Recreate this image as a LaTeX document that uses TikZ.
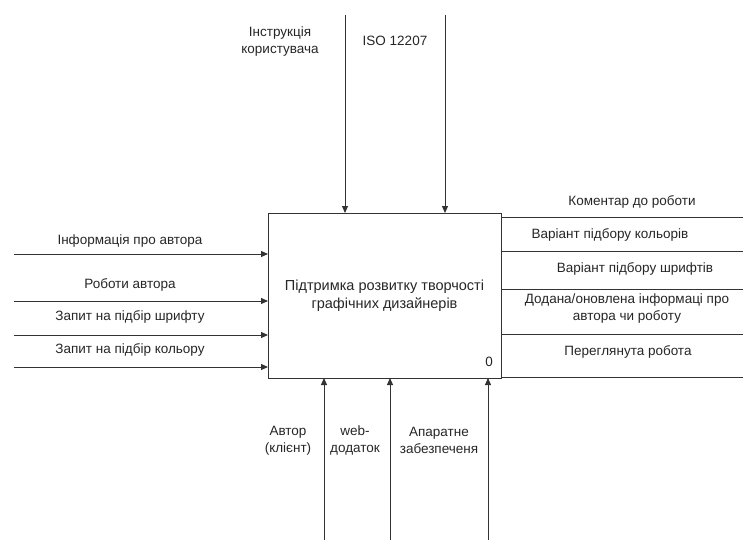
\documentclass[tikz,border=0pt]{standalone}
\usepackage{fontspec}
\setmainfont{Liberation Sans}
\usetikzlibrary{arrows.meta}
\begin{document}
\begin{tikzpicture}[x=1pt,y=-1pt,
  font=\fontsize{13.5}{17}\selectfont,
  line/.style={draw=black!80, line width=1pt},
  flow/.style={line, -{Triangle[length=7pt,width=6pt]}},
  lbl/.style={text=black!85, align=center, inner sep=0pt}]
\useasboundingbox (0,0) rectangle (743,540);

% function block
\node[draw=black!80, line width=1pt, minimum width=233pt, minimum height=165pt,
      inner sep=0pt, outer sep=0pt, align=center, text=black!85,
      font=\fontsize{14.5}{18}\selectfont] (fn) at (384.5,295.5)
  {Підтримка розвитку творчості\\графічних дизайнерів};
\node[lbl] (num) at (489,362) {0};

% controls (top)
\coordinate (t1) at (345,15);
\coordinate (t2) at (445,15);
\draw[flow] (t1) -- (t1 |- fn.north);
\draw[flow] (t2) -- (t2 |- fn.north);
\node[lbl] (tl1) at (280,41.5) {Інструкція\\користувача};
\node[lbl] (tl2) at (395,41) {ISO 12207};

% inputs (left)
\coordinate (l1) at (14,254);
\coordinate (l2) at (14,301);
\coordinate (l3) at (14,335);
\coordinate (l4) at (14,367);
\foreach \c in {l1,l2,l3,l4} \draw[flow] (\c) -- (\c -| fn.west);
\node[lbl] (ll1) at (130,241) {Інформація про автора};
\node[lbl] (ll2) at (130,285) {Роботи автора};
\node[lbl] (ll3) at (130,317) {Запит на підбір шрифту};
\node[lbl] (ll4) at (130,350) {Запит на підбір кольору};

% outputs (right)
\coordinate (r1) at (743,217);
\coordinate (r2) at (743,251);
\coordinate (r3) at (743,289);
\coordinate (r4) at (743,334);
\coordinate (r5) at (743,377);
\foreach \c in {r1,r2,r3,r4,r5} \draw[line] (\c -| fn.east) -- (\c);
\node[lbl] (rl1) at (632,202) {Коментар до роботи};
\node[lbl] (rl2) at (610,235) {Варіант підбору кольорів};
\node[lbl] (rl3) at (635,269) {Варіант підбору шрифтів};
\node[lbl] (rl4) at (627,308.5) {Додана/оновлена інформаці про\\автора чи роботу};
\node[lbl] (rl5) at (628,352) {Переглянута робота};

% mechanisms (bottom)
\coordinate (b1) at (324,540);
\coordinate (b2) at (390,540);
\coordinate (b3) at (488,540);
\foreach \c in {b1,b2,b3} \draw[flow] (\c) -- (\c |- fn.south);
\node[lbl] (bl1) at (288,440.5) {Автор\\(клієнт)};
\node[lbl] (bl2) at (355,440.5) {web-\\додаток};
\node[lbl] (bl3) at (439,440.5) {Апаратне\\забезпеченя};
\end{tikzpicture}
\end{document}
